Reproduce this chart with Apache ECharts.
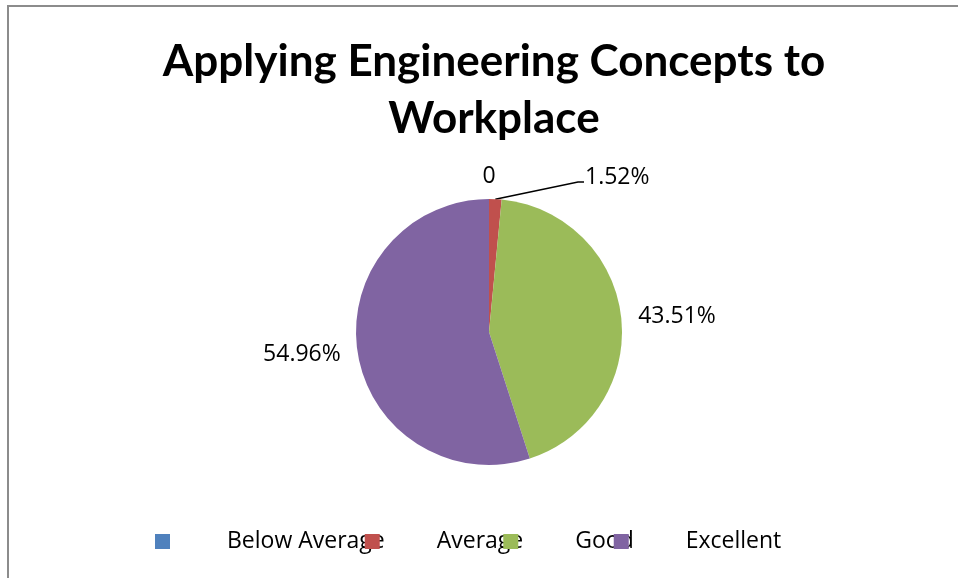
<!DOCTYPE html>
<html>
<head>
<meta charset="utf-8">
<script src="https://cdn.jsdelivr.net/npm/echarts@6/dist/echarts.min.js"></script>
<style>
  html, body { margin: 0; padding: 0; background: #fff; }
  #chart { width: 958px; height: 578px; }
</style>
</head>
<body>
<div id="chart"></div>
<script>
// data
var categories = ["Below Average", "Average", "Good", "Excellent"];
var values = [0, 1.52, 43.51, 54.96];
var colors = ["#4F81BD", "#C0504D", "#9BBB59", "#8064A2"];

var TITLE_FONT = "Lato";
var FONT = "Open Sans";

var chart = echarts.init(document.getElementById("chart"));

var pieData = categories.map(function (name, i) {
  var item = { name: name, value: values[i], itemStyle: { color: colors[i] } };
  if (i !== 1) {
    item.labelLine = { show: false };
  }
  return item;
});

chart.setOption({
  animation: false,
  title: {
    text: "Applying Engineering Concepts to\nWorkplace",
    left: 489,
    top: 28,
    textAlign: "center",
    textStyle: {
      fontFamily: TITLE_FONT,
      fontWeight: "bold",
      fontSize: 44,
      lineHeight: 57,
      color: "#000"
    }
  },
  legend: {
    left: 155,
    top: 530,
    padding: 0,
    icon: "rect",
    itemWidth: 15,
    itemHeight: 15,
    itemGap: -20,
    itemStyle: { borderWidth: 0, borderRadius: 0 },
    data: categories,
    textStyle: {
      fontFamily: FONT,
      fontSize: 23,
      color: "#000",
      padding: [0, 0, 0, 52]
    }
  },
  graphic: [{
    type: "polyline",
    shape: { points: [[8, 578], [8, 6], [958, 6]] },
    style: { stroke: "#8c8c8c", lineWidth: 2, fill: null }
  }],
  series: [{
    type: "pie",
    center: [489, 332],
    radius: 133,
    startAngle: 90,
    clockwise: true,
    avoidLabelOverlap: false,
    data: pieData,
    itemStyle: { borderWidth: 0 },
    label: {
      show: true,
      position: "outside",
      fontFamily: FONT,
      fontSize: 23,
      color: "#000",
      formatter: function (p) {
        return p.value === 0 ? "0" : p.value.toFixed(2) + "%";
      }
    },
    labelLine: {
      show: true,
      length: 12,
      length2: 0,
      lineStyle: { color: "#000", width: 1.5 }
    },
    labelLayout: function (params) {
      if (params.dataIndex === 0) {
        return { x: 489, y: 176, align: "center", verticalAlign: "middle" };
      }
      if (params.dataIndex === 1) {
        var p0 = params.labelLinePoints ? params.labelLinePoints[0] : [495, 199];
        return {
          x: 585, y: 177, align: "left", verticalAlign: "middle",
          labelLinePoints: [p0, [578, 182], [584, 182]]
        };
      }
    }
  }]
});
</script>
</body>
</html>
